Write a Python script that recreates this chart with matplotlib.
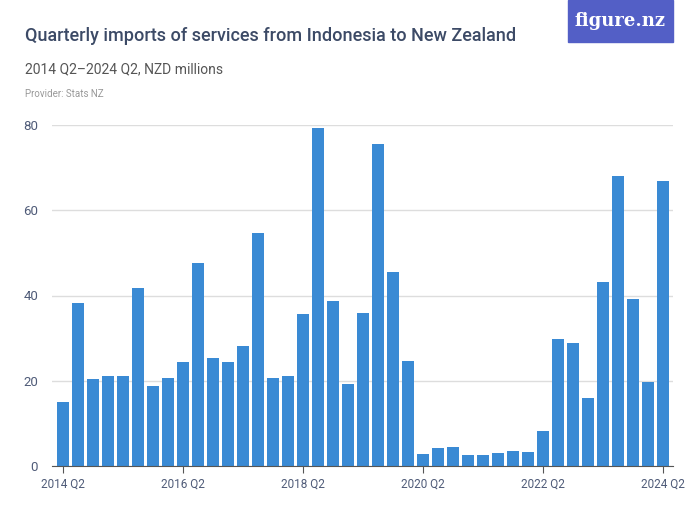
import numpy as np
import matplotlib.pyplot as plt
from matplotlib.patches import Rectangle

title_color = "#3c4a66"
tick_color = "#4f5b78"
bar_color = "#3a8ad4"

quarters = [f"{y} Q{q}" for y in range(2014, 2025) for q in range(1, 5)][1:42]
values = [
    15.0, 38.2, 20.3, 21.0, 21.0, 41.7, 18.7, 20.6, 24.4, 47.6,
    25.3, 24.4, 28.2, 54.7, 20.6, 21.0, 35.6, 79.3, 38.7, 19.2,
    35.8, 75.5, 45.4, 24.6, 2.7, 4.2, 4.5, 2.6, 2.6, 3.0,
    3.5, 3.3, 8.2, 29.8, 28.9, 15.9, 43.2, 68.1, 39.2, 19.8,
    66.9,
]
tick_labels = ["2014 Q2", "2016 Q2", "2018 Q2", "2020 Q2", "2022 Q2", "2024 Q2"]
y_ticks = [0, 20, 40, 60, 80]


def main():
    plt.rcParams["font.family"] = ["Roboto", "DejaVu Sans"]
    fig = plt.figure(figsize=(7, 5.25), dpi=100)
    ax = fig.add_axes([52 / 700, 1 - 466 / 525, 621 / 700, 341 / 525])

    x = np.arange(len(values))
    ax.bar(x, values, width=0.8, color=bar_color, zorder=2)

    ax.set_xlim(-0.75, 40.65)
    ax.set_ylim(0, 80)
    ax.set_yticks(y_ticks)
    ax.set_yticklabels([str(v) for v in y_ticks])
    tick_pos = [quarters.index(t) for t in tick_labels]
    ax.set_xticks(tick_pos)
    ax.set_xticklabels(tick_labels)

    ax.grid(axis="y", color="#dddddd", lw=1, zorder=0)
    for s in ["top", "right", "left"]:
        ax.spines[s].set_visible(False)
    ax.spines["bottom"].set_color("#555555")
    ax.tick_params(axis="y", length=0, pad=10, labelcolor=tick_color, labelsize=9.5)
    ax.tick_params(axis="x", length=5, color="#555555", pad=3,
                   labelcolor=tick_color, labelsize=8.5)

    fig.text(25 / 700, 1 - 36 / 525, "Quarterly imports of services from Indonesia to New Zealand",
             fontsize=13, color=title_color, va="center", fontweight="medium")
    fig.text(25 / 700, 1 - 69 / 525, "2014 Q2–2024 Q2, NZD millions",
             fontsize=10, color="#555555", va="center")
    fig.text(25 / 700, 1 - 94 / 525, "Provider: Stats NZ",
             fontsize=7, color="#999999", va="center")

    fig.patches.append(Rectangle((568 / 700, 1 - 42 / 525), 105 / 700, 42 / 525,
                                 transform=fig.transFigure, color="#535fc6", zorder=0))
    fig.text(620 / 700, 1 - 21 / 525, "figure.nz", fontsize=13, color="white",
             ha="center", va="center", fontweight="bold", family="DejaVu Serif")

    fig.savefig("out.png", dpi=100)


if __name__ == "__main__":
    main()
